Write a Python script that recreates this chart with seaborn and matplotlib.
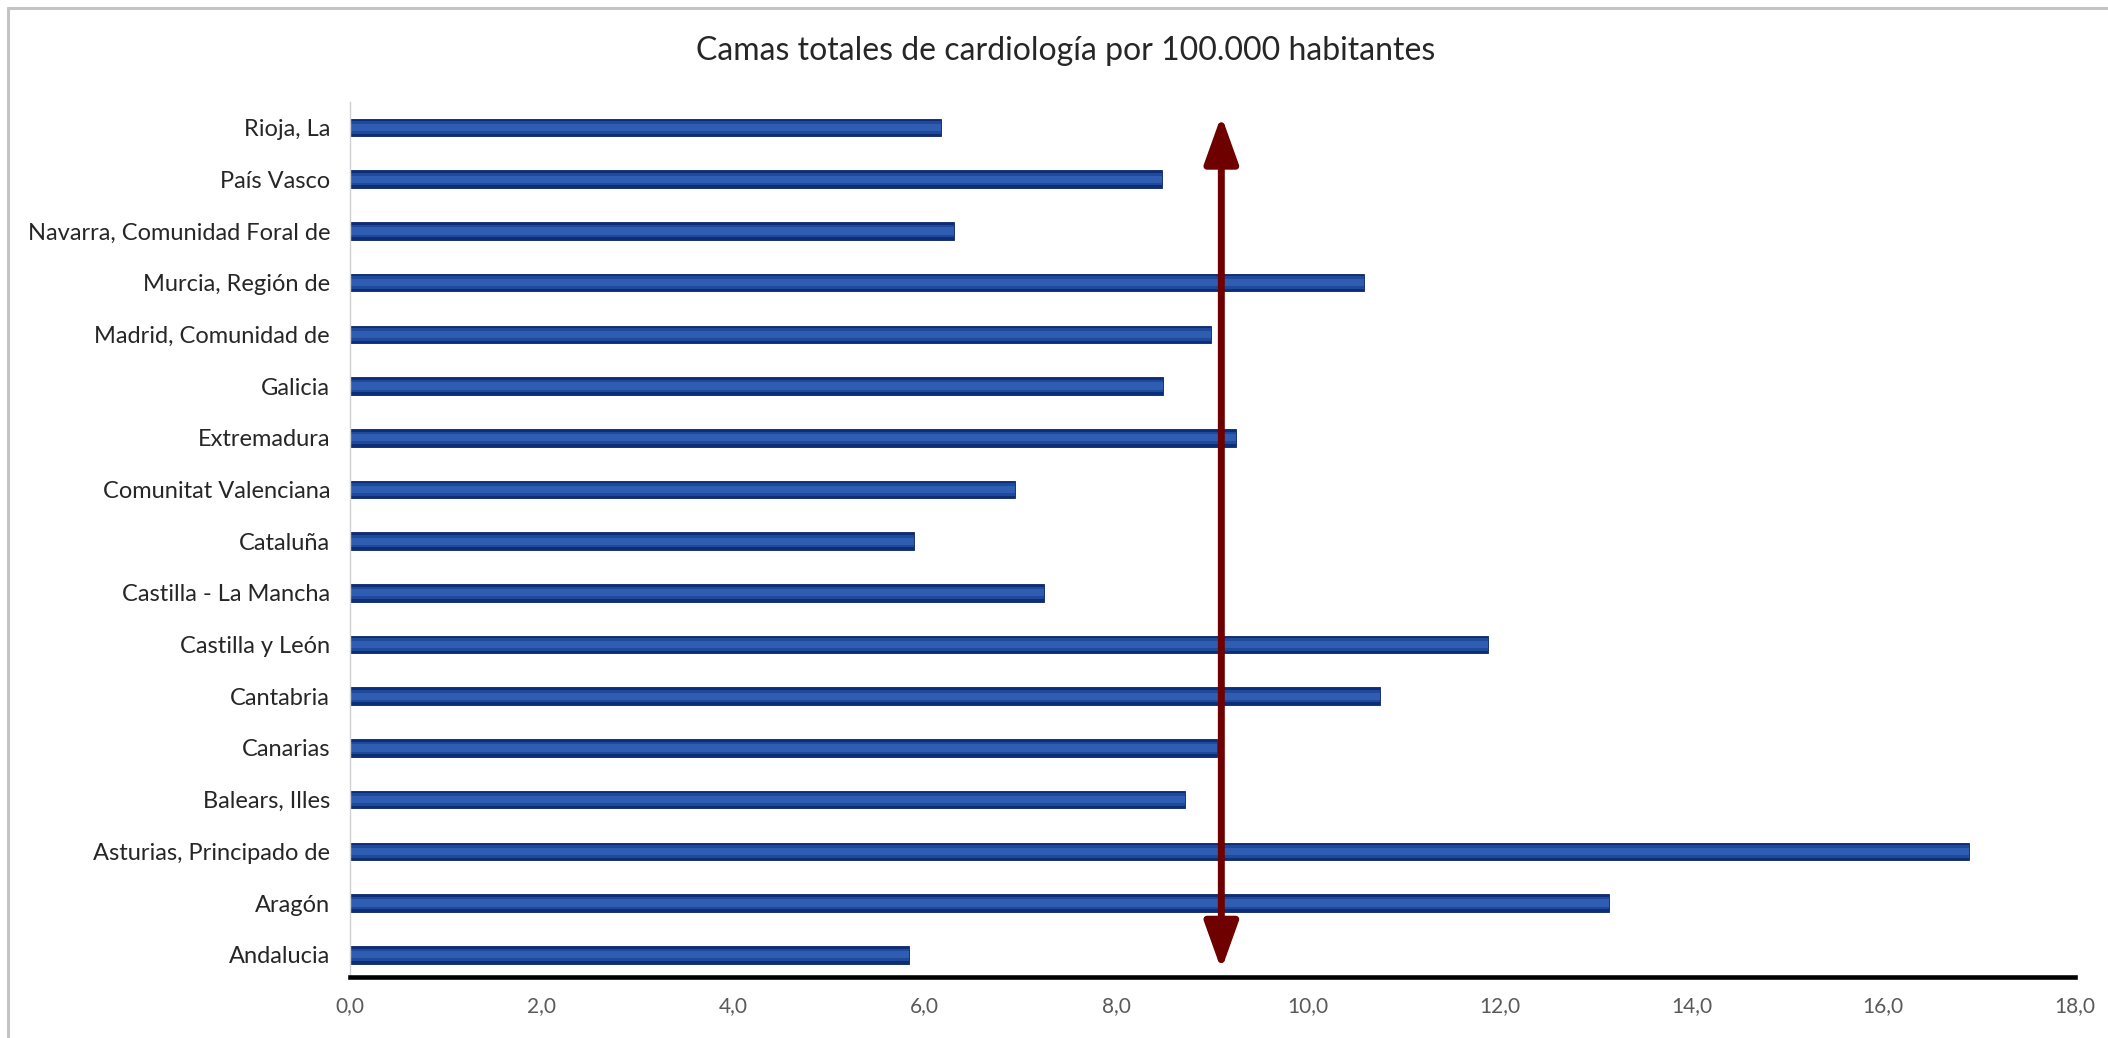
import numpy as np
import pandas as pd
import matplotlib
matplotlib.use("Agg")
import matplotlib.pyplot as plt
import seaborn as sns
from matplotlib.patches import FancyArrowPatch
from matplotlib.lines import Line2D

# ---- data ----
regiones = [
    "Rioja, La", "País Vasco", "Navarra, Comunidad Foral de", "Murcia, Región de",
    "Madrid, Comunidad de", "Galicia", "Extremadura", "Comunitat Valenciana",
    "Cataluña", "Castilla - La Mancha", "Castilla y León", "Cantabria",
    "Canarias", "Balears, Illes", "Asturias, Principado de", "Aragón", "Andalucia",
]
camas = [6.17, 8.48, 6.31, 10.58, 8.99, 8.49, 9.25, 6.94,
         5.89, 7.24, 11.88, 10.75, 9.05, 8.72, 16.89, 13.14, 5.84]
xticks = [0, 2, 4, 6, 8, 10, 12, 14, 16, 18]
xtick_labels = ["0,0", "2,0", "4,0", "6,0", "8,0", "10,0", "12,0", "14,0", "16,0", "18,0"]
titulo = "Camas totales de cardiología por 100.000 habitantes"

df = pd.DataFrame({"region": regiones, "camas": camas})
media = float(np.mean(camas))

sns.set_theme(style="white")
plt.rcParams["font.family"] = ["Lato", "DejaVu Sans"]

W, H = 2108, 1038
fig = plt.figure(figsize=(W / 100, H / 100), dpi=100)
ax = fig.add_axes([349.5 / W, 1 - 977 / H, (2075 - 349.5) / W, (977 - 101.7) / H])

# outer bars (dark edge) + inner lighter stripes to mimic the gradient
sns.barplot(data=df, x="camas", y="region", orient="h", ax=ax,
            color="#0c2d78", width=0.34, saturation=1, edgecolor="#0a2566", linewidth=0.6)
sns.barplot(data=df, x="camas", y="region", orient="h", ax=ax,
            color="#1f4a9c", width=0.24, saturation=1, linewidth=0)
sns.barplot(data=df, x="camas", y="region", orient="h", ax=ax,
            color="#2f5db2", width=0.14, saturation=1, linewidth=0)

ax.set_xlim(0, 18)
ax.set_ylim(len(regiones) - 1 + 0.43, -0.5)
ax.set_xticks(xticks)
ax.set_xticklabels(xtick_labels, fontsize=15, color="#595959")
ax.tick_params(axis="x", length=0, pad=14)
ax.tick_params(axis="y", length=0, pad=14, labelsize=17, labelcolor="#262626")
ax.set_xlabel("")
ax.set_ylabel("")

for s in ["top", "right"]:
    ax.spines[s].set_visible(False)
ax.spines["left"].set_color("#d0d0d0")
ax.spines["left"].set_linewidth(1.0)
ax.spines["bottom"].set_color("black")
ax.spines["bottom"].set_linewidth(3.3)
ax.spines["bottom"].set_zorder(5)

# mean arrow (double-headed)
arr = FancyArrowPatch((media, len(regiones) - 1 + 0.29), (media, -0.23),
                      arrowstyle="<|-|>,head_length=1.45,head_width=0.52",
                      mutation_scale=20, color="#6e0000", linewidth=5, zorder=6,
                      shrinkA=0, shrinkB=0)
ax.add_patch(arr)

fig.text(1066 / W, 1 - 51 / H, titulo, ha="center", va="center",
         fontsize=23, color="#262626")

# chart frame (top and left edges)
fig.add_artist(Line2D([8 / W, 1], [1 - 8 / H, 1 - 8 / H], transform=fig.transFigure,
                      color="#c4c4c4", linewidth=2.2))
fig.add_artist(Line2D([8 / W, 8 / W], [0, 1 - 8 / H], transform=fig.transFigure,
                      color="#c4c4c4", linewidth=2.2))

fig.savefig("out.png", dpi=100, facecolor="white")
